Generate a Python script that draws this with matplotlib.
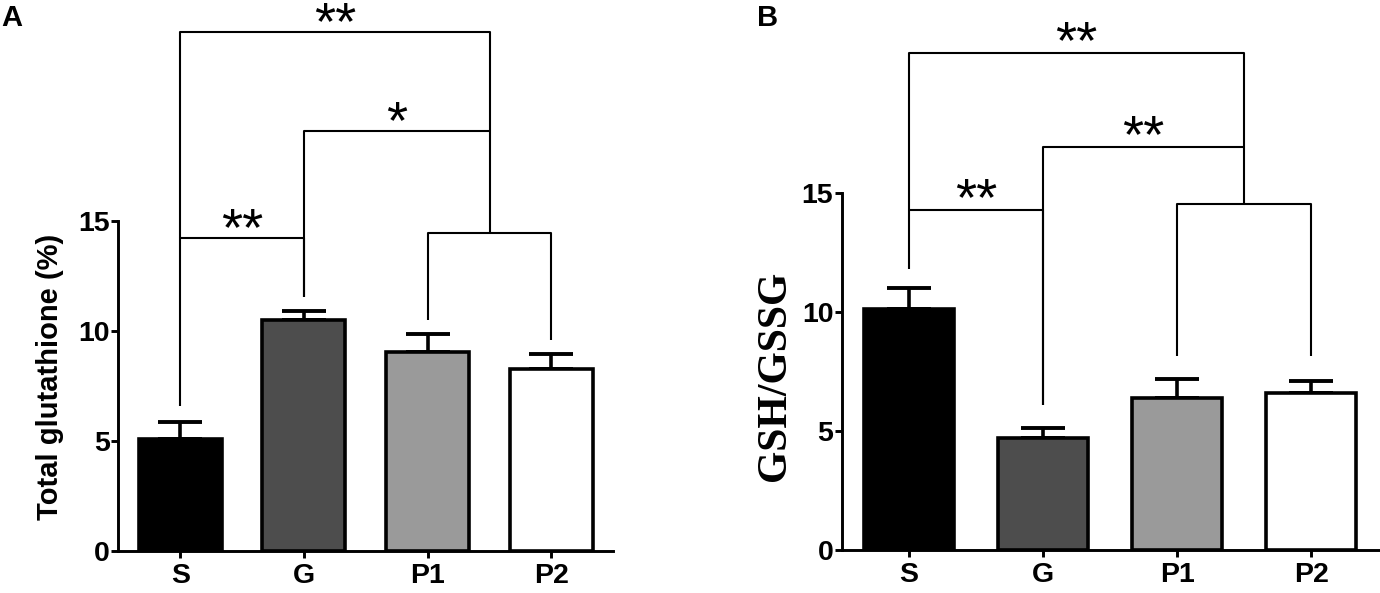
import matplotlib
matplotlib.use("Agg")
import matplotlib.pyplot as plt
import numpy as np

# ---------------- data ----------------
groups = ["S", "G", "P1", "P2"]
colors = ["#000000", "#4d4d4d", "#9a9a9a", "#ffffff"]

# Panel A: total glutathione (%)
a_mean = [5.07, 10.49, 9.05, 8.25]
a_sem = [0.80, 0.41, 0.81, 0.71]
a_ylabel = "Total glutathione (%)"
a_yticks = [0, 5, 10, 15]

# Panel B: GSH/GSSG
b_mean = [10.15, 4.69, 6.40, 6.62]
b_sem = [0.87, 0.42, 0.78, 0.50]
b_ylabel = "GSH/GSSG"
b_yticks = [0, 5, 10, 15]

# significance brackets: (left x, right x, bracket y, left leg bottom, right leg bottom, label)
a_brackets = [
    (0, 1, 14.2, 6.6, 11.55, "**"),
    (2, 3, 14.45, 10.5, 9.6, ""),
    (1, 2.5, 19.1, 11.55, 14.45, "*"),
    (0, 2.5, 23.6, 14.2, 19.1, "**"),
]
b_brackets = [
    (0, 1, 14.3, 11.8, 6.1, "**"),
    (2, 3, 14.55, 8.17, 8.17, ""),
    (1, 2.5, 16.96, 6.1, 14.55, "**"),
    (0, 2.5, 20.89, 14.3, 16.96, "**"),
]

W, H = 1380, 593
fig = plt.figure(figsize=(W / 100, H / 100), dpi=100)

LIB = "Liberation Sans"


def make_axes(left_px, right_px, bottom_px, ppu, ytop):
    height_px = ppu * ytop
    return fig.add_axes([left_px / W, (H - bottom_px) / H,
                         (right_px - left_px) / W, height_px / H])


def draw_panel(ax, means, sems, yticks, ytop, brackets, star_gap_px):
    x = np.arange(len(groups))
    ax.bar(x, means, width=0.67, color=colors, edgecolor="black",
           linewidth=2.6, zorder=3)
    ax.errorbar(x, means, yerr=[np.zeros(len(sems)), sems], fmt="none",
                ecolor="black", elinewidth=2.6, capsize=15.5, capthick=2.8,
                zorder=2)
    ax.set_xlim(-0.5, 3.5)
    ax.set_ylim(0, ytop)
    for s in ["top", "right"]:
        ax.spines[s].set_visible(False)
    for s in ["left", "bottom"]:
        ax.spines[s].set_linewidth(2.1)
    ax.spines["left"].set_bounds(0, 15)
    ax.set_yticks(yticks)
    ax.set_xticks(x)
    ax.set_xticklabels(groups)
    ax.tick_params(axis="both", direction="out", length=5, width=2.1)
    ax.tick_params(axis="y", pad=1.0)
    ax.tick_params(axis="x", pad=3.5)
    for lab in ax.get_xticklabels() + ax.get_yticklabels():
        lab.set_fontfamily(LIB)
        lab.set_fontweight("bold")
        lab.set_fontsize(20.5)
    for (xl, xr, yb, yl, yr, txt) in brackets:
        ax.plot([xl, xl, xr, xr], [yl, yb, yb, yr], color="black",
                linewidth=1.5, solid_capstyle="butt", clip_on=False, zorder=4)
        if txt:
            fs = 39
            off = star_gap_px * 0.72 - 0.5 * fs
            ax.annotate(txt, xy=((xl + xr) / 2, yb), xytext=(0, off),
                        textcoords="offset points", ha="center",
                        va="baseline", fontsize=fs, fontfamily=LIB,
                        annotation_clip=False)


axA = make_axes(118.3, 613.3, 550.7, 22.0, 25)
draw_panel(axA, a_mean, a_sem, a_yticks, 25, a_brackets, 20)

axB = make_axes(841.7, 1378.5, 550.0, 23.78, 23)
draw_panel(axB, b_mean, b_sem, b_yticks, 23, b_brackets, 22)

fig.text(50 / W, 1 - 376.5 / H, a_ylabel, rotation=90, ha="center",
         va="center", fontsize=21, fontweight="bold", fontfamily=LIB)
fig.text(775 / W, 1 - 376 / H, b_ylabel, rotation=90, ha="center",
         va="center", fontsize=30, fontweight="bold",
         fontfamily="Liberation Serif")

fig.text(1 / W, 1 - 4 / H, "A", ha="left", va="top", fontsize=21,
         fontweight="bold", fontfamily=LIB)
fig.text(757 / W, 1 - 4 / H, "B", ha="left", va="top", fontsize=21,
         fontweight="bold", fontfamily=LIB)

fig.savefig("out.png", dpi=100)
